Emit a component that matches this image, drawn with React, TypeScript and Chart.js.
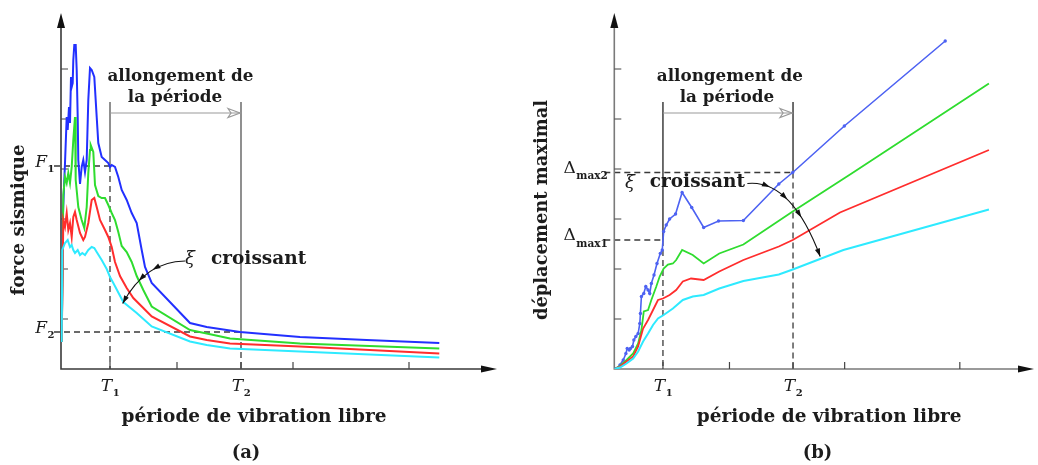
import React, { useEffect, useRef } from "react";
import { Chart, registerables } from "chart.js";
Chart.register(...registerables);

// ---------- shared axis values ----------
const X_TICKS = [0.49, 1.16, 1.8, 2.32, 3.48];
const Y_TICKS = [1, 2, 3, 4, 5, 6];
const T1 = 0.49;
const T2 = 1.8;
const F1 = 4.06;
const F2 = 0.74;
const DMAX1 = 2.58;
const DMAX2 = 3.93;

// ---------- panel (a): force sismique ----------
const forceBlue: [number, number][] = [
  [0.007, 0.54], [0.02, 3.12], [0.035, 3.88], [0.04, 4.12], [0.057, 5.04], [0.067, 4.78],
  [0.08, 5.24], [0.09, 4.92], [0.1, 5.84], [0.107, 5.64], [0.117, 5.72], [0.123, 6.18],
  [0.133, 6.48], [0.147, 6.48], [0.157, 5.98], [0.167, 5.04], [0.173, 4.18], [0.19, 3.7],
  [0.207, 4.04], [0.223, 4.18], [0.24, 3.94], [0.257, 4.18], [0.273, 5.38], [0.29, 6.02],
  [0.307, 5.98], [0.333, 5.84], [0.357, 5.04], [0.373, 4.52], [0.407, 4.24], [0.44, 4.18],
  [0.473, 4.12], [0.49, 4.04], [0.507, 4.08], [0.54, 4.04], [0.573, 3.84], [0.607, 3.58],
  [0.657, 3.38], [0.707, 3.12], [0.757, 2.92], [0.807, 2.38], [0.84, 2.04], [0.907, 1.72],
  [1.29, 0.92], [1.457, 0.84], [1.79, 0.74], [2.39, 0.64], [3.057, 0.58], [3.783, 0.52],
];
const forceGreen: [number, number][] = [
  [0.007, 0.54], [0.023, 3.48], [0.04, 3.84], [0.057, 3.72], [0.073, 3.92], [0.09, 3.72],
  [0.107, 4.04], [0.123, 4.58], [0.14, 5.04], [0.147, 3.78], [0.173, 3.24], [0.207, 2.98],
  [0.233, 2.82], [0.257, 3.24], [0.273, 3.92], [0.29, 4.38], [0.297, 4.48], [0.323, 4.34],
  [0.34, 3.68], [0.373, 3.46], [0.407, 3.42], [0.44, 3.42], [0.473, 3.28], [0.507, 3.12],
  [0.54, 2.98], [0.573, 2.74], [0.607, 2.46], [0.657, 2.34], [0.707, 2.14], [0.757, 1.86],
  [0.823, 1.58], [0.907, 1.25], [1.29, 0.78], [1.457, 0.71], [1.69, 0.61], [2.39, 0.51],
  [3.783, 0.41],
];
const forceRed: [number, number][] = [
  [0.007, 0.54], [0.023, 2.98], [0.04, 2.84], [0.057, 3.12], [0.073, 2.78], [0.09, 2.92],
  [0.107, 2.64], [0.123, 3.04], [0.14, 3.14], [0.157, 2.98], [0.19, 2.72], [0.223, 2.58],
  [0.24, 2.64], [0.273, 2.92], [0.307, 3.38], [0.333, 3.42], [0.357, 3.24], [0.39, 2.98],
  [0.44, 2.78], [0.473, 2.64], [0.507, 2.44], [0.54, 2.14], [0.59, 1.86], [0.657, 1.62],
  [0.723, 1.42], [0.823, 1.22], [0.907, 1.05], [1.29, 0.65], [1.457, 0.58], [1.69, 0.51],
  [2.39, 0.45], [3.783, 0.31],
];
const forceCyan: [number, number][] = [
  [0.007, 0.54], [0.013, 2.38], [0.04, 2.52], [0.067, 2.58], [0.09, 2.44], [0.107, 2.48],
  [0.123, 2.38], [0.14, 2.32], [0.167, 2.38], [0.19, 2.28], [0.213, 2.32], [0.24, 2.28],
  [0.273, 2.38], [0.307, 2.44], [0.333, 2.42], [0.357, 2.34], [0.407, 2.18], [0.457, 2.0],
  [0.49, 1.84], [0.523, 1.72], [0.623, 1.34], [0.757, 1.12], [0.907, 0.85], [1.29, 0.55],
  [1.457, 0.48], [1.69, 0.41], [2.39, 0.35], [3.783, 0.23],
];

// ---------- panel (b): déplacement maximal ----------
const dispBlue: [number, number][] = [
  [0, 0], [0.023, 0.01], [0.057, 0.08], [0.09, 0.18], [0.117, 0.31], [0.13, 0.41],
  [0.15, 0.38], [0.163, 0.41], [0.183, 0.45], [0.197, 0.58], [0.217, 0.65], [0.24, 0.71],
  [0.257, 0.91], [0.263, 1.11], [0.273, 1.45], [0.297, 1.51], [0.317, 1.65], [0.34, 1.58],
  [0.357, 1.51], [0.373, 1.71], [0.4, 1.88], [0.43, 2.11], [0.463, 2.31], [0.483, 2.38],
  [0.497, 2.75], [0.523, 2.88], [0.557, 3.0], [0.617, 3.1], [0.683, 3.53], [0.78, 3.23],
  [0.9, 2.83], [1.05, 2.96], [1.3, 2.97], [1.657, 3.7], [1.797, 3.93], [2.317, 4.86],
  [3.333, 6.56],
];
const dispGreen: [number, number][] = [
  [0, 0], [0.057, 0.06], [0.123, 0.18], [0.19, 0.31], [0.24, 0.51], [0.273, 0.78],
  [0.297, 1.15], [0.34, 1.18], [0.373, 1.38], [0.423, 1.65], [0.457, 1.85], [0.497, 2.01],
  [0.54, 2.09], [0.59, 2.11], [0.623, 2.18], [0.683, 2.38], [0.79, 2.28], [0.9, 2.11],
  [1.057, 2.31], [1.3, 2.49], [1.797, 3.15], [2.39, 3.91], [3.773, 5.71],
];
const dispRed: [number, number][] = [
  [0, 0], [0.057, 0.05], [0.123, 0.15], [0.19, 0.25], [0.24, 0.45], [0.29, 0.81],
  [0.34, 0.98], [0.39, 1.18], [0.44, 1.38], [0.49, 1.41], [0.557, 1.48], [0.623, 1.58],
  [0.69, 1.75], [0.773, 1.81], [0.9, 1.78], [1.057, 1.95], [1.3, 2.18], [1.657, 2.45],
  [1.797, 2.58], [2.273, 3.13], [3.773, 4.38],
];
const dispCyan: [number, number][] = [
  [0, 0], [0.057, 0.03], [0.123, 0.11], [0.19, 0.21], [0.24, 0.35], [0.29, 0.55],
  [0.34, 0.71], [0.39, 0.88], [0.44, 1.01], [0.497, 1.08], [0.59, 1.21], [0.69, 1.38],
  [0.79, 1.45], [0.9, 1.48], [1.057, 1.61], [1.3, 1.76], [1.657, 1.89], [1.797, 1.99],
  [2.307, 2.38], [3.773, 3.19],
];

const SERIF = "'DejaVu Serif', 'Liberation Serif', serif";
const INK = "#1c1c1c";

type PanelCfg = {
  key: string;
  xMax: number;
  padLeft: number;
  padRight: number;
  axisColor: string;
  yTitle: string;
  yTitleSize: number;
  yTitlePos: [number, number];
  xTitlePos: [number, number];
  panelLabel: string;
  panelLabelPos: [number, number];
  textTop: [number, number];
  textBottom: [number, number];
  arrowY: number;
  tLineTop: number;
  t1Stop: number;
  t2Stop: number;
  hGuides: { y: number; to: number; label: string; sub: string; kind: "F" | "D" }[];
  xiPos: [number, number];
  croissantPos: [number, number];
  curve: [number, number][];
  curveHeads: number[];
};

const panelA: PanelCfg = {
  key: "a",
  xMax: 4.36,
  padLeft: 61,
  padRight: 22,
  axisColor: "#3a3a3a",
  yTitle: "force sismique",
  yTitleSize: 18.4,
  yTitlePos: [-0.42, 2.98],
  xTitlePos: [1.93, -0.96],
  panelLabel: "(a)",
  panelLabelPos: [1.85, -1.68],
  textTop: [1.195, 5.84],
  textBottom: [1.14, 5.42],
  arrowY: 5.12,
  tLineTop: 5.34,
  t1Stop: F1,
  t2Stop: F2,
  hGuides: [
    { y: F1, to: T1, label: "F", sub: "1", kind: "F" },
    { y: F2, to: T2, label: "F", sub: "2", kind: "F" },
  ],
  xiPos: [1.29, 2.2],
  croissantPos: [1.5, 2.2],
  curve: [[1.24, 2.16], [0.84, 2.15], [0.617, 1.31]],
  curveHeads: [0.45, 0.68, 1],
};

const panelB: PanelCfg = {
  key: "b",
  xMax: 4.227,
  padLeft: 95.3,
  padRight: 1,
  axisColor: "#7a7a7a",
  yTitle: "déplacement maximal",
  yTitleSize: 17.9,
  yTitlePos: [-0.726, 3.18],
  xTitlePos: [2.164, -0.96],
  panelLabel: "(b)",
  panelLabelPos: [2.047, -1.68],
  textTop: [1.164, 5.84],
  textBottom: [1.134, 5.42],
  arrowY: 5.12,
  tLineTop: 5.34,
  t1Stop: DMAX1,
  t2Stop: DMAX2,
  hGuides: [
    { y: DMAX2, to: T2, label: "Δ", sub: "max2", kind: "D" },
    { y: DMAX1, to: T1, label: "Δ", sub: "max1", kind: "D" },
  ],
  xiPos: [0.157, 3.72],
  croissantPos: [0.357, 3.74],
  curve: [[1.34, 3.71], [1.78, 3.8], [2.074, 2.25]],
  curveHeads: [0.27, 0.5, 0.7, 1],
};

function drawSub(
  ctx: CanvasRenderingContext2D, main: string, sub: string, x: number, y: number,
  align: "left" | "center" | "right", mainFont: string, subFont: string, subDy: number,
) {
  ctx.font = mainFont;
  const w1 = ctx.measureText(main).width;
  ctx.font = subFont;
  const w2 = ctx.measureText(sub).width;
  const x0 = align === "center" ? x - (w1 + w2) / 2 : align === "right" ? x - w1 - w2 : x;
  ctx.textAlign = "left";
  ctx.textBaseline = "middle";
  ctx.font = mainFont;
  ctx.fillText(main, x0, y);
  ctx.font = subFont;
  ctx.fillText(sub, x0 + w1 + 0.5, y + subDy);
}

function makeOverlay(cfg: PanelCfg) {
  return {
    id: "overlay_" + cfg.key,
    beforeDatasetsDraw(chart: any) {
      const ctx: CanvasRenderingContext2D = chart.ctx;
      const xs = chart.scales.x;
      const ys = chart.scales.y;
      const X = (v: number) => xs.getPixelForValue(v);
      const Y = (v: number) => ys.getPixelForValue(v);
      const area = chart.chartArea;
      ctx.save();
      // dashed horizontal guides
      ctx.strokeStyle = "#3a3a3a";
      ctx.lineWidth = 1.3;
      ctx.setLineDash([6, 4]);
      for (const g of cfg.hGuides) {
        ctx.beginPath();
        ctx.moveTo(X(0) - (g.kind === "D" ? 10 : 7), Y(g.y));
        ctx.lineTo(X(g.to), Y(g.y));
        ctx.stroke();
      }
      // dashed lower parts of T lines
      ctx.beginPath();
      ctx.moveTo(X(T1), Y(cfg.t1Stop));
      ctx.lineTo(X(T1), Y(0));
      ctx.moveTo(X(T2), Y(cfg.t2Stop));
      ctx.lineTo(X(T2), Y(0));
      ctx.stroke();
      ctx.setLineDash([]);
      // solid upper parts
      ctx.strokeStyle = cfg.key === "a" ? "#555" : "#222";
      ctx.lineWidth = 1.3;
      ctx.beginPath();
      ctx.moveTo(X(T1), Y(cfg.tLineTop));
      ctx.lineTo(X(T1), Y(cfg.t1Stop));
      ctx.moveTo(X(T2), Y(cfg.tLineTop));
      ctx.lineTo(X(T2), Y(cfg.t2Stop));
      ctx.stroke();
      // grey arrow
      ctx.strokeStyle = "#9a9a9a";
      ctx.lineWidth = 1.2;
      const ay = Y(cfg.arrowY);
      const ax2 = X(T2);
      ctx.beginPath();
      ctx.moveTo(X(T1), ay);
      ctx.lineTo(ax2 - 1, ay);
      ctx.stroke();
      ctx.beginPath();
      ctx.moveTo(ax2 - 13, ay - 4.5);
      ctx.lineTo(ax2 - 1, ay);
      ctx.lineTo(ax2 - 13, ay + 4.5);
      ctx.lineTo(ax2 - 10, ay);
      ctx.closePath();
      ctx.stroke();
      // axes
      ctx.strokeStyle = cfg.axisColor;
      ctx.lineWidth = 1.6;
      ctx.beginPath();
      ctx.moveTo(X(0), Y(0));
      ctx.lineTo(X(0), area.top + 12);
      ctx.moveTo(X(0) - 0.8, Y(0));
      ctx.lineTo(area.right - 12, Y(0));
      ctx.stroke();
      ctx.fillStyle = "#111";
      ctx.beginPath();
      ctx.moveTo(X(0), area.top);
      ctx.lineTo(X(0) - 4, area.top + 15);
      ctx.lineTo(X(0) + 4, area.top + 15);
      ctx.closePath();
      ctx.fill();
      ctx.beginPath();
      ctx.moveTo(area.right, Y(0));
      ctx.lineTo(area.right - 16, Y(0) - 3.5);
      ctx.lineTo(area.right - 16, Y(0) + 3.5);
      ctx.closePath();
      ctx.fill();
      // ticks
      ctx.strokeStyle = "#444";
      ctx.lineWidth = 1.2;
      ctx.beginPath();
      for (const t of Y_TICKS) {
        ctx.moveTo(X(0), Y(t));
        ctx.lineTo(X(0) + 7, Y(t));
      }
      for (const t of X_TICKS) {
        ctx.moveTo(X(t), Y(0));
        ctx.lineTo(X(t), Y(0) - 7);
      }
      ctx.stroke();
      ctx.restore();
    },
    afterDatasetsDraw(chart: any) {
      const ctx: CanvasRenderingContext2D = chart.ctx;
      const xs = chart.scales.x;
      const ys = chart.scales.y;
      const X = (v: number) => xs.getPixelForValue(v);
      const Y = (v: number) => ys.getPixelForValue(v);
      ctx.save();
      ctx.fillStyle = INK;
      ctx.textAlign = "center";
      ctx.textBaseline = "middle";
      ctx.font = `bold 16.8px ${SERIF}`;
      ctx.fillText("allongement de", X(cfg.textTop[0]), Y(cfg.textTop[1]));
      ctx.fillText("la période", X(cfg.textBottom[0]), Y(cfg.textBottom[1]));
      // xi croissant
      ctx.font = `italic 18px ${SERIF}`;
      ctx.fillText("ξ", X(cfg.xiPos[0]), Y(cfg.xiPos[1]));
      ctx.textAlign = "left";
      ctx.font = `bold 18.5px ${SERIF}`;
      ctx.fillText("croissant", X(cfg.croissantPos[0]), Y(cfg.croissantPos[1]));
      // curved arrow
      const [p0, c, p2] = cfg.curve.map(([a, b]) => [X(a), Y(b)]);
      ctx.strokeStyle = "#111";
      ctx.lineWidth = 1.2;
      ctx.beginPath();
      ctx.moveTo(p0[0], p0[1]);
      ctx.quadraticCurveTo(c[0], c[1], p2[0], p2[1]);
      ctx.stroke();
      ctx.fillStyle = "#111";
      for (const t of cfg.curveHeads) {
        const qx = (1 - t) * (1 - t) * p0[0] + 2 * (1 - t) * t * c[0] + t * t * p2[0];
        const qy = (1 - t) * (1 - t) * p0[1] + 2 * (1 - t) * t * c[1] + t * t * p2[1];
        const dx = 2 * (1 - t) * (c[0] - p0[0]) + 2 * t * (p2[0] - c[0]);
        const dy = 2 * (1 - t) * (c[1] - p0[1]) + 2 * t * (p2[1] - c[1]);
        const ang = Math.atan2(dy, dx);
        ctx.save();
        ctx.translate(qx, qy);
        ctx.rotate(ang);
        ctx.beginPath();
        ctx.moveTo(0, 0);
        ctx.lineTo(-8, -2.6);
        ctx.lineTo(-8, 2.6);
        ctx.closePath();
        ctx.fill();
        ctx.restore();
      }
      // guide labels
      ctx.fillStyle = INK;
      for (const g of cfg.hGuides) {
        if (g.kind === "F") {
          drawSub(ctx, g.label, g.sub, X(0) - 7, Y(g.y) - 3, "right",
            `italic 17px ${SERIF}`, `bold 10px ${SERIF}`, 6);
        } else {
          drawSub(ctx, g.label, g.sub, X(0) - 7, Y(g.y) - 4, "right",
            `17px ${SERIF}`, `bold 10.5px ${SERIF}`, 8);
        }
      }
      // T labels
      drawSub(ctx, "T", "1", X(T1), Y(-0.36), "center", `italic 17px ${SERIF}`, `bold 10px ${SERIF}`, 6);
      drawSub(ctx, "T", "2", X(T2), Y(-0.36), "center", `italic 17px ${SERIF}`, `bold 10px ${SERIF}`, 6);
      // titles
      ctx.textAlign = "center";
      ctx.textBaseline = "middle";
      ctx.font = `bold 18.5px ${SERIF}`;
      ctx.fillText("période de vibration libre", X(cfg.xTitlePos[0]), Y(cfg.xTitlePos[1]));
      ctx.font = `bold 18px ${SERIF}`;
      ctx.fillText(cfg.panelLabel, X(cfg.panelLabelPos[0]), Y(cfg.panelLabelPos[1]));
      ctx.save();
      ctx.translate(X(cfg.yTitlePos[0]), Y(cfg.yTitlePos[1]));
      ctx.rotate(-Math.PI / 2);
      ctx.font = `bold ${cfg.yTitleSize}px ${SERIF}`;
      ctx.fillText(cfg.yTitle, 0, 0);
      ctx.restore();
      ctx.restore();
    },
  };
}

function toXY(d: [number, number][]) {
  return d.map(([x, y]) => ({ x, y }));
}

function Panel({ cfg, series, left }: { cfg: PanelCfg; series: any[]; left: number }) {
  const ref = useRef<HTMLCanvasElement>(null);
  useEffect(() => {
    if (!ref.current) return;
    const chart = new Chart(ref.current, {
      type: "line",
      data: {
        datasets: series.map((s) => ({
          data: toXY(s.data),
          borderColor: s.color,
          backgroundColor: s.color,
          borderWidth: s.width,
          pointRadius: s.points ? 1.7 : 0,
          pointBorderWidth: 0,
          pointBackgroundColor: s.color,
          tension: 0,
          fill: false,
        })),
      },
      options: {
        animation: false,
        responsive: false,
        maintainAspectRatio: false,
        layout: { padding: { left: cfg.padLeft, right: cfg.padRight, top: 13, bottom: 96 } },
        plugins: { legend: { display: false }, tooltip: { enabled: false }, title: { display: false } },
        events: [],
        scales: {
          x: { type: "linear", min: 0, max: cfg.xMax, display: false },
          y: { type: "linear", min: 0, max: 7.12, display: false },
        },
      },
      plugins: [makeOverlay(cfg)],
    });
    return () => chart.destroy();
  }, []);
  return (
    <canvas
      ref={ref}
      width={519}
      height={465}
      style={{ position: "absolute", left, top: 0, width: 519, height: 465 }}
    />
  );
}

export default function App() {
  const seriesA = [
    { data: forceCyan, color: "#2eeaff", width: 2 },
    { data: forceRed, color: "#ff2d2d", width: 2 },
    { data: forceGreen, color: "#2fdc2f", width: 2 },
    { data: forceBlue, color: "#2230ff", width: 2 },
  ];
  const seriesB = [
    { data: dispCyan, color: "#2eeaff", width: 2 },
    { data: dispRed, color: "#ff2d2d", width: 1.8 },
    { data: dispGreen, color: "#2fdc2f", width: 1.8 },
    { data: dispBlue, color: "#4d62f2", width: 1.6, points: true },
  ];
  return (
    <div style={{ position: "fixed", left: 0, top: 0, width: 1038, height: 465, background: "#fff" }}>
      <Panel cfg={panelA} series={seriesA} left={0} />
      <Panel cfg={panelB} series={seriesB} left={519} />
    </div>
  );
}
